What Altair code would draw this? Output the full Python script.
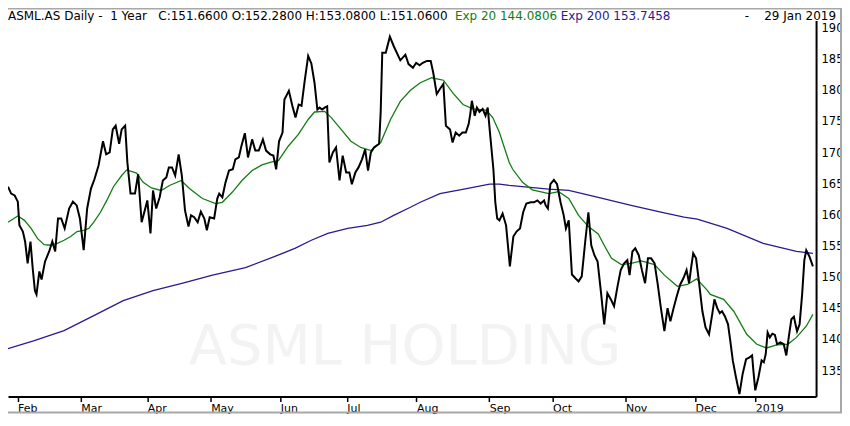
import altair as alt
import pandas as pd

# ---- data (trading-session number since 29 Jan 2018) ----
close_day = [0, 1.0, 2.1, 3.1, 3.6, 4.7, 5.4, 6.2, 7.1, 7.8, 8.5, 9.0, 9.9, 10.6, 11.7, 13.0, 14.0, 14.9, 15.8, 16.8,
             17.9, 19.3, 20.5, 21.7, 22.7, 23.9, 25.0, 26.2, 27.3, 28.6, 30.0, 31.0, 32.1, 33.1, 34.0, 35.1, 35.9, 37.0,
             37.7, 38.7, 40.1, 41.1, 42.2, 43.2, 44.0, 45.0, 45.8, 46.8, 47.9, 48.9, 50.0, 50.8, 51.8, 52.8, 53.9, 54.9,
             55.9, 57.0, 57.8, 58.8, 59.9, 60.9, 62.0, 62.8, 63.7, 65.1, 66.1, 66.7, 67.7, 68.7, 69.8, 71.0, 71.8, 72.9,
             73.7, 74.8, 75.8, 77.1, 78.1, 79.2, 80.5, 81.5, 82.8, 83.8, 84.7, 85.6, 86.7, 87.3, 88.7, 89.8, 90.8, 91.8,
             92.7, 93.7, 94.8, 95.8, 96.8, 97.7, 98.4, 99.2, 100.0, 100.8, 101.5, 102.6, 103.6, 104.7, 105.7, 106.8,
             107.8, 108.6, 109.7, 110.7, 111.8, 112.8, 113.7, 114.6, 115.6, 117.2, 117.7, 118.2, 119.3, 120.6, 121.8,
             123.9, 125.5, 126.5, 127.9, 128.9, 130.0, 131.0, 132.3, 133.5, 134.3, 135.4, 136.4, 137.5, 138.3, 139.6,
             140.4, 141.4, 142.5, 143.5, 144.6, 145.5, 146.0, 146.5, 147.4, 148.1, 148.9, 149.9, 150.8, 151.5, 152.3,
             153.3, 153.9, 154.5, 155.2, 156.2, 157.3, 158.5, 159.6, 160.6, 161.7, 162.7, 163.7, 165.1, 166.1, 167.2,
             168.2, 169.3, 169.8, 170.5, 171.3, 172.4, 173.4, 174.5, 175.5, 176.2, 177.1, 178.1, 179.2, 180.2, 181.2,
             182.3, 183.3, 184.2, 185.2, 186.2, 187.3, 188.3, 189.3, 190.4, 191.4, 192.5, 193.5, 194.6, 195.6, 196.3,
             197.2, 198.1, 199.2, 200.2, 201.2, 202.1, 203.1, 204.2, 205.2, 206.2, 207.3, 208.3, 209.2, 210.2, 211.2,
             212.3, 213.3, 214.3, 215.1, 215.8, 216.4, 217.3, 218.2, 219.3, 220.3, 221.4, 222.4, 223.1, 224.0, 224.8,
             225.5, 226.4, 227.4, 228.1, 228.9, 229.9, 231.0, 232.0, 233.1, 234.2, 235.0, 235.4, 236.0, 237.0, 238.0,
             238.7, 239.3, 239.9, 240.6, 241.4, 242.2, 242.9, 243.9, 245.0, 245.8, 246.7, 247.4, 248.2, 248.7, 249.2,
             250.0, 250.8, 251.5, 252.1, 253.1, 254.2]
close_val = [164.6, 163.5, 163.2, 162.2, 158.4, 157.4, 155.8, 152.3, 155.8, 151.5, 147.9, 147.3, 151.0, 149.7, 152.6,
             154.2, 155.8, 154.2, 159.5, 159.5, 157.9, 161.1, 162.2, 161.6, 159.5, 154.4, 161.1, 164.3, 165.8, 168.0,
             171.9, 169.8, 170.1, 173.8, 174.4, 171.5, 173.8, 174.4, 168.5, 163.5, 163.5, 166.6, 158.9, 160.8, 162.4,
             157.1, 164.0, 161.1, 162.9, 165.6, 166.1, 167.7, 167.7, 166.4, 169.8, 166.4, 160.8, 158.2, 160.0, 159.7,
             158.9, 160.6, 159.5, 157.6, 159.7, 159.5, 162.7, 163.5, 162.9, 165.3, 167.2, 167.4, 169.0, 169.3, 171.1,
             173.2, 169.3, 172.2, 170.4, 170.4, 172.2, 170.4, 169.8, 169.6, 167.4, 171.9, 173.3, 178.6, 180.0, 177.6,
             175.7, 177.8, 177.6, 181.6, 185.6, 184.4, 181.3, 177.0, 177.3, 177.0, 177.3, 177.5, 168.5, 170.1, 170.9,
             165.6, 169.6, 166.9, 166.9, 165.0, 166.9, 167.7, 169.0, 170.6, 167.2, 170.1, 170.9, 171.5, 176.6, 186.1,
             186.1, 188.7, 187.2, 184.9, 185.8, 184.3, 183.7, 184.5, 184.1, 184.5, 184.8, 184.8, 182.9, 179.5, 180.3,
             181.1, 174.4, 173.8, 171.7, 173.3, 172.8, 173.3, 173.3, 174.7, 176.3, 178.4, 176.0, 177.3, 176.6, 177.1,
             176.0, 177.3, 172.8, 167.4, 162.1, 159.5, 159.2, 160.3, 158.4, 151.8, 156.6, 157.4, 157.9, 160.5, 161.9,
             162.1, 162.1, 162.4, 161.9, 162.4, 161.6, 161.1, 165.0, 165.7, 165.0, 162.1, 160.0, 157.9, 159.2, 150.5,
             149.9, 149.4, 150.2, 155.8, 160.5, 155.2, 153.6, 152.6, 147.5, 142.5, 147.5, 146.5, 145.4, 148.6, 151.2,
             152.3, 152.8, 150.4, 154.2, 154.7, 153.6, 151.2, 149.1, 153.1, 153.1, 152.3, 148.9, 145.1, 141.4, 145.1,
             143.0, 145.1, 147.0, 148.9, 149.9, 151.2, 149.1, 151.8, 153.9, 153.1, 149.4, 144.6, 142.0, 140.9, 144.1,
             146.5, 145.1, 144.3, 144.6, 143.8, 142.5, 139.9, 136.7, 134.0, 131.3, 134.5, 136.9, 137.2, 137.5, 135.1,
             131.9, 134.0, 136.7, 136.4, 137.7, 141.2, 140.4, 141.0, 140.8, 139.3, 139.6, 139.3, 137.5, 140.9, 143.3,
             143.7, 142.5, 141.4, 142.5, 147.3, 152.8, 154.4, 153.4, 151.8]

ema20_day = [0, 3.1, 5.2, 7.3, 9.3, 11.4, 13.5, 15.6, 17.7, 19.8, 21.8, 23.9, 25.5, 27.1, 29.2, 31.2, 33.3, 35.9, 37.5,
             40.6, 42.7, 45.3, 48.4, 51.0, 54.7, 57.3, 61.4, 65.6, 67.7, 70.8, 73.9, 77.1, 80.2, 83.3, 85.4, 88.5, 91.7,
             94.8, 96.8, 100.0, 102.1, 105.2, 108.3, 111.4, 114.6, 117.7, 120.8, 123.9, 127.1, 130.2, 133.8, 137.5,
             140.6, 143.7, 146.8, 151.0, 153.1, 155.2, 158.3, 159.4, 162.5, 165.6, 170.8, 173.9, 177.1, 180.2, 183.3,
             186.4, 188.5, 190.6, 193.7, 196.8, 200.0, 204.2, 207.3, 211.4, 214.6, 217.5, 220.8, 221.8, 226.0, 229.2,
             233.3, 236.5, 239.6, 242.7, 246.3, 249.0, 252.1, 254.2]
ema20_val = [158.9, 159.9, 159.2, 157.9, 156.3, 155.3, 155.2, 155.5, 156.0, 156.6, 157.4, 157.6, 157.9, 158.9, 160.5,
             162.4, 164.6, 166.4, 167.3, 166.8, 165.3, 164.4, 164.0, 164.8, 165.6, 164.3, 162.7, 161.9, 162.1, 163.7,
             165.6, 167.2, 168.1, 168.6, 168.8, 171.1, 173.0, 175.4, 176.6, 176.7, 175.7, 173.8, 171.9, 170.9, 170.4,
             171.7, 175.4, 178.3, 180.1, 181.3, 182.1, 181.7, 179.6, 177.8, 177.1, 176.9, 175.7, 173.3, 168.5, 167.4,
             165.3, 164.1, 163.5, 163.8, 162.7, 160.0, 158.2, 157.0, 155.0, 153.1, 152.1, 152.3, 152.7, 152.1, 150.4,
             148.6, 148.9, 149.8, 148.0, 147.3, 146.5, 144.6, 140.9, 139.3, 138.7, 139.2, 139.3, 140.4, 142.2, 144.1]

ema200_day = [0, 8.3, 17.7, 27.1, 36.4, 45.8, 55.2, 64.6, 75.0, 84.3, 90.6, 95.8, 101.0, 107.3, 113.5, 117.7, 121.8,
              127.1, 130.2, 136.4, 144.8, 152.1, 155.2, 158.3, 170.8, 177.1, 186.4, 196.8, 206.2, 213.5, 217.7, 227.1,
              238.5, 249.0, 254.2]
ema200_val = [138.6, 139.9, 141.5, 143.9, 146.3, 147.9, 149.1, 150.4, 151.6, 153.4, 154.7, 156.0, 157.1, 157.9, 158.4,
              158.9, 160.0, 161.3, 162.1, 163.5, 164.3, 165.0, 165.0, 164.8, 164.2, 164.0, 162.9, 161.6, 160.5, 159.7,
              159.4, 157.9, 155.5, 154.2, 153.9]

month_day = [3, 23, 44, 64, 86, 107, 129, 152, 172, 195, 217, 236]
month_lbl = ["Feb", "Mar", "Apr", "May", "Jun", "Jul", "Aug", "Sep", "Oct", "Nov", "Dec", "2019"]
price_ticks = [135, 140, 145, 150, 155, 160, 165, 170, 175, 180, 185, 190]

NB = "\u00a0"
header_main = f"ASML.AS Daily -{NB} 1 Year{NB}{NB} C:151.6600 O:152.2800 H:153.0800 L:151.0600"
header_ema20 = "Exp 20 144.0806"
header_ema200 = "Exp 200 153.7458"
header_date = f"-{NB}{NB}{NB} 29 Jan 2019"
watermark = "ASML HOLDING"

GREEN = "#127d12"
NAVY = "#2b1a8f"
FONT = "DejaVu Sans"
W, H = 810, 377

df_close = pd.DataFrame({"day": close_day, "v": close_val})
df_e20 = pd.DataFrame({"day": ema20_day, "v": ema20_val})
df_e200 = pd.DataFrame({"day": ema200_day, "v": ema200_val})

expr = "''"
for d, l in reversed(list(zip(month_day, month_lbl))):
    expr = f"datum.value == {d} ? '{l}' : ({expr})"

xenc = alt.X("day:Q", scale=alt.Scale(domain=[0, 255.2], nice=False, zero=False),
             axis=alt.Axis(values=month_day, labelExpr=expr, title=None, grid=False,
                           tickSize=5, tickWidth=1.5, tickColor="black",
                           domainColor="black", domainWidth=2,
                           labelAlign="left", labelBaseline="top", labelOffset=0, labelPadding=1,
                           labelFont=FONT, labelFontSize=11, labelColor="black"))
yenc = alt.Y("v:Q", scale=alt.Scale(domain=[130.9, 191.3], nice=False, zero=False),
             axis=alt.Axis(orient="right", values=price_ticks, title=None, grid=False,
                           ticks=False, labelPadding=5, domainColor="black", domainWidth=2,
                           labelFont=FONT, labelFontSize=11.5, labelColor="black"))

one = pd.DataFrame({"k": [0]})

wm = alt.Chart(one).mark_text(text=watermark, font=FONT, fontSize=56, color="#f3f3f3",
                              align="center", baseline="middle").encode(
    x=alt.value(398), y=alt.value(327))

e200 = alt.Chart(df_e200).mark_line(color=NAVY, strokeWidth=1.3).encode(x=xenc, y=yenc)
e20 = alt.Chart(df_e20).mark_line(color=GREEN, strokeWidth=1.3).encode(x=xenc, y=yenc)
cl = alt.Chart(df_close).mark_line(color="black", strokeWidth=2, strokeJoin="miter").encode(x=xenc, y=yenc)

def htext(txt, xpos, color, align="left"):
    return alt.Chart(one).mark_text(text=txt, font=FONT, fontSize=12, color=color,
                                    align=align, baseline="alphabetic").encode(
        x=alt.value(xpos), y=alt.value(-0.5))

h1 = htext(header_main, 0, "black")
h2 = htext(header_ema20, 448, GREEN)
h3 = htext(header_ema200, 554, NAVY)
h4 = htext(header_date, 830, "black", align="right")

frame = alt.Chart(one).mark_rect(fillOpacity=0, stroke="#a8a8a8", strokeWidth=2).encode(
    x=alt.value(-1), x2=alt.value(835), y=alt.value(-12), y2=alt.value(393))

chart = alt.layer(wm, e200, e20, cl, h1, h2, h3, h4, frame).properties(
    width=W, height=H,
    autosize=alt.AutoSizeParams(type="none"),
    padding={"left": 0, "top": 12, "right": 26, "bottom": 17},
    background="white",
).configure_view(strokeWidth=0)

chart.save("out.html", embed_options={"renderer": "svg", "actions": False})
